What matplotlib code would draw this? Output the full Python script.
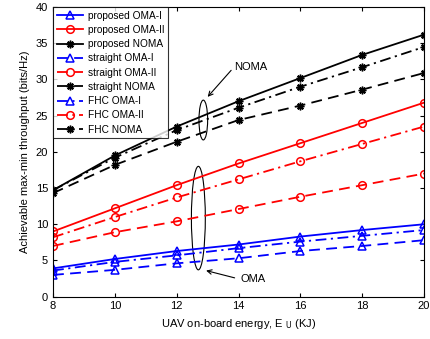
import matplotlib
matplotlib.use("Agg")
import matplotlib.pyplot as plt
from matplotlib.patches import Ellipse

plt.rcParams['font.family'] = ['Liberation Sans', 'DejaVu Sans']

energy = [8, 10, 12, 14, 16, 18, 20]

prop_oma1 = [3.9, 5.2, 6.3, 7.2, 8.3, 9.2, 10.0]
prop_oma2 = [9.0, 12.2, 15.4, 18.4, 21.2, 24.0, 26.8]
prop_noma = [14.7, 19.5, 23.5, 27.0, 30.2, 33.4, 36.2]
str_oma1 = [3.0, 3.7, 4.6, 5.3, 6.3, 7.0, 7.8]
str_oma2 = [7.0, 8.9, 10.4, 12.1, 13.8, 15.4, 17.0]
str_noma = [14.3, 18.2, 21.4, 24.4, 26.4, 28.6, 30.9]
fhc_oma1 = [3.6, 4.8, 5.7, 6.7, 7.6, 8.4, 9.2]
fhc_oma2 = [8.2, 11.0, 13.7, 16.2, 18.7, 21.1, 23.5]
fhc_noma = [14.7, 19.2, 23.0, 26.1, 29.0, 31.7, 34.5]

labels = ["proposed OMA-I", "proposed OMA-II", "proposed NOMA",
          "straight OMA-I", "straight OMA-II", "straight NOMA",
          "FHC OMA-I", "FHC OMA-II", "FHC NOMA"]

fig = plt.figure(figsize=(4.31, 3.39), dpi=100)
ax = fig.add_axes([0.123, 0.125, 0.861, 0.854])

dashed = (0, (6, 3.5))
dashdot = (0, (6, 2.5, 1.2, 2.5))
series = [
    (prop_oma1, 'b', '^', '-'),
    (prop_oma2, 'r', 'o', '-'),
    (prop_noma, 'k', (8, 2, 0), '-'),
    (str_oma1, 'b', '^', dashed),
    (str_oma2, 'r', 'o', dashed),
    (str_noma, 'k', (8, 2, 0), dashed),
    (fhc_oma1, 'b', '^', dashdot),
    (fhc_oma2, 'r', 'o', dashdot),
    (fhc_noma, 'k', (8, 2, 0), dashdot),
]
for (vals, c, m, ls), lab in zip(series, labels):
    ax.plot(energy, vals, color=c, marker=m, linestyle=ls, lw=1.3,
            markersize=5.5, markerfacecolor='none', markeredgecolor=c,
            markeredgewidth=1.1, label=lab)

ax.set_xlim(8, 20)
ax.set_ylim(0, 40)
ax.set_xticks(energy)
ax.set_yticks(range(0, 41, 5))
ax.tick_params(direction='in', top=True, right=True, labelsize=8, length=3)
ax.set_xlabel("UAV on-board energy, E $_{\\rm U}$ (KJ)", fontsize=8)
ax.set_ylabel("Achievable max-min throughput (bits/Hz)", fontsize=8)

leg = ax.legend(loc='upper left', fontsize=7.3, frameon=True, fancybox=False,
                edgecolor='k', borderaxespad=0, handlelength=2.6,
                labelspacing=0.42, borderpad=0.35, handletextpad=0.5)
leg.get_frame().set_linewidth(0.8)

ax.add_patch(Ellipse((12.86, 24.4), 0.28, 5.5, fill=False, color='k', lw=0.8))
ax.add_patch(Ellipse((12.7, 10.85), 0.45, 14.3, fill=False, color='k', lw=0.8))
ax.annotate("NOMA", xy=(13.0, 27.6), xytext=(13.85, 31.7), fontsize=8,
            va='center', ha='left',
            arrowprops=dict(arrowstyle='->', color='k', lw=0.8, shrinkA=0, shrinkB=0,
                            relpos=(0, 0.5)))
ax.annotate("OMA", xy=(12.95, 3.6), xytext=(14.05, 2.4), fontsize=8,
            va='center', ha='left',
            arrowprops=dict(arrowstyle='->', color='k', lw=0.8, shrinkA=2, shrinkB=0,
                            relpos=(0, 0.5)))

fig.savefig("out.png", dpi=100)
